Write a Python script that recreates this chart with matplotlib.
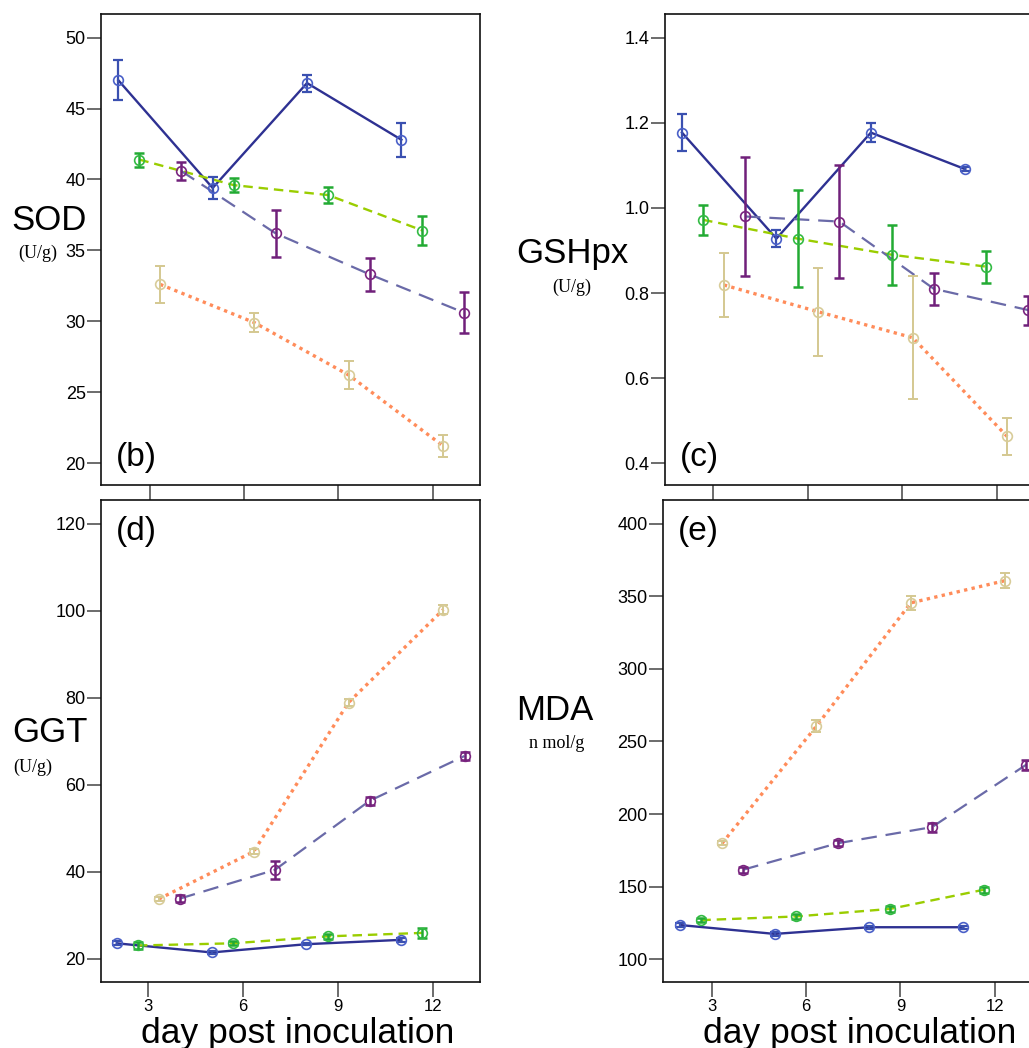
import matplotlib
matplotlib.use('Agg')
import matplotlib.pyplot as plt
import numpy as np

plt.rcParams['font.family'] = ['Liberation Sans', 'DejaVu Sans']

# sampling days and the four groups
days = [3, 6, 9, 12]
groups = ['blue', 'green', 'tan', 'purple']

# SOD (U/g)
sod_mean = {'blue': [47.0, 39.4, 46.8, 42.8], 'green': [41.4, 39.6, 38.9, 36.4],
            'tan': [32.6, 29.9, 26.2, 21.2], 'purple': [40.6, 36.2, 33.3, 30.6]}
sod_err = {'blue': [1.4, 0.8, 0.6, 1.2], 'green': [0.5, 0.5, 0.55, 1.05],
           'tan': [1.3, 0.65, 1.0, 0.75], 'purple': [0.65, 1.65, 1.15, 1.45]}

# GSHpx (U/g)
gsh_mean = {'blue': [1.177, 0.928, 1.177, 1.091], 'green': [0.972, 0.928, 0.890, 0.862],
            'tan': [0.819, 0.756, 0.695, 0.463], 'purple': [0.980, 0.968, 0.810, 0.760]}
gsh_err = {'blue': [0.043, 0.02, 0.023, 0.005], 'green': [0.036, 0.114, 0.07, 0.038],
           'tan': [0.075, 0.104, 0.145, 0.044], 'purple': [0.14, 0.132, 0.037, 0.034]}

# GGT (U/g)
ggt_mean = {'blue': [23.5, 21.4, 23.3, 24.3], 'green': [23.0, 23.5, 25.1, 25.9],
            'tan': [33.7, 44.6, 78.9, 100.3], 'purple': [33.8, 40.4, 56.3, 66.6]}
ggt_err = {'blue': [0.5, 0.4, 0.3, 0.4], 'green': [0.8, 0.5, 0.6, 1.1],
           'tan': [0.5, 0.6, 0.8, 1.1], 'purple': [0.9, 2.0, 0.9, 0.9]}

# MDA (n mol/g)
mda_mean = {'blue': [123.6, 117.5, 122.1, 122.1], 'green': [127.0, 129.5, 134.7, 148.0],
            'tan': [179.9, 260.6, 345.4, 360.7], 'purple': [161.7, 179.9, 191.0, 234.0]}
mda_err = {'blue': [1.5, 1.5, 1.0, 1.0], 'green': [1.5, 1.5, 2.0, 2.0],
           'tan': [1.5, 4.0, 5.0, 5.0], 'purple': [2.0, 2.0, 3.0, 3.5]}

style = {
    'blue': dict(dx=-1.0, line='#2e3192', ls='-', lw=1.7, mk='#4a60c8', eb='#3a50b0', elw=1.6),
    'green': dict(dx=-0.33, line='#9acd00', ls=(0, (4, 2.5)), lw=1.7, mk='#33bb44', eb='#22aa33', elw=1.8),
    'tan': dict(dx=0.33, line='#ff8c5a', ls=(0, (1, 1.3)), lw=2.4, mk='#d8cc99', eb='#d4c890', elw=1.4),
    'purple': dict(dx=1.0, line='#6a6aa8', ls=(0, (7, 4)), lw=1.6, mk='#7b2580', eb='#70207a', elw=1.8),
}

W, H = 1029, 1048
fig = plt.figure(figsize=(W / 100, H / 100), dpi=100)


def px_axes(x0, y_top, w, y_bot):
    return fig.add_axes([x0 / W, 1 - y_bot / H, w / W, (y_bot - y_top) / H])


def draw_panel(ax, means, errs, xlim, ylim, yticks, ytick_fmt, letter, letter_y, xlabels):
    for g in groups:
        s = style[g]
        x = np.array(days) + s['dx']
        ax.plot(x, means[g], color=s['line'], ls=s['ls'], lw=s['lw'], zorder=2)
        ax.errorbar(x, means[g], yerr=errs[g], fmt='none', ecolor=s['eb'],
                    elinewidth=s['elw'], capsize=3.5, capthick=s['elw'], zorder=3)
        ax.plot(x, means[g], 'o', ms=7, mfc='none', mec=s['mk'], mew=1.2, zorder=4)
    ax.set_xlim(*xlim)
    ax.set_ylim(*ylim)
    ax.set_yticks(yticks)
    ax.set_yticklabels([ytick_fmt % v for v in yticks])
    ax.set_xticks(days)
    if xlabels:
        ax.set_xticklabels([str(d) for d in days])
    else:
        ax.set_xticklabels([])
    ax.tick_params(axis='y', direction='out', length=10, width=1.1, color='#444444',
                   labelsize=13, pad=1)
    ax.tick_params(axis='x', direction='out', length=11, width=1.1, color='#444444',
                   labelsize=12, pad=1.5)
    for sp in ax.spines.values():
        sp.set_linewidth(1.2)
        sp.set_color('#111111')
    ax.text(0.04, letter_y, letter, transform=ax.transAxes, fontsize=24,
            ha='left', va='center')


ax_b = px_axes(101, 14, 379, 485)
draw_panel(ax_b, sod_mean, sod_err, (1.45, 13.5), (18.45, 51.67),
           [20, 25, 30, 35, 40, 45, 50], '%d', '(b)', 0.058, False)

ax_c = px_axes(665, 14, 379, 485)
draw_panel(ax_c, gsh_mean, gsh_err, (1.46, 13.5), (0.349, 1.4557),
           [0.4, 0.6, 0.8, 1.0, 1.2, 1.4], '%.1f', '(c)', 0.058, False)

ax_d = px_axes(101, 500, 379, 982)
draw_panel(ax_d, ggt_mean, ggt_err, (1.5, 13.49), (14.6, 125.5),
           [20, 40, 60, 80, 100, 120], '%d', '(d)', 0.935, True)

ax_e = px_axes(663, 500, 379, 982)
draw_panel(ax_e, mda_mean, mda_err, (1.45, 13.5), (84.4, 416.2),
           [100, 150, 200, 250, 300, 350, 400], '%d', '(e)', 0.935, True)

serif = ['Liberation Serif', 'DejaVu Serif']

# y axis titles
fig.text(49 / W, 1 - 220 / H, 'SOD', fontsize=25, ha='center', va='center')
fig.text(38 / W, 1 - 253 / H, '(U/g)', fontsize=13, ha='center', va='center', family=serif)
fig.text(572 / W, 1 - 254 / H, 'GSHpx', fontsize=25, ha='center', va='center')
fig.text(572 / W, 1 - 287 / H, '(U/g)', fontsize=13, ha='center', va='center', family=serif)
fig.text(50 / W, 1 - 733 / H, 'GGT', fontsize=25, ha='center', va='center')
fig.text(33 / W, 1 - 767 / H, '(U/g)', fontsize=13, ha='center', va='center', family=serif)
fig.text(555 / W, 1 - 710 / H, 'MDA', fontsize=25, ha='center', va='center')
fig.text(557 / W, 1 - 743 / H, 'n mol/g', fontsize=13, ha='center', va='center', family=serif)

# x axis titles
fig.text(298 / W, 1 - 1043 / H, 'day post inoculation', fontsize=25.5, ha='center',
         va='baseline')
fig.text(860 / W, 1 - 1043 / H, 'day post inoculation', fontsize=25.5, ha='center',
         va='baseline')

fig.savefig('out.png', dpi=100)
